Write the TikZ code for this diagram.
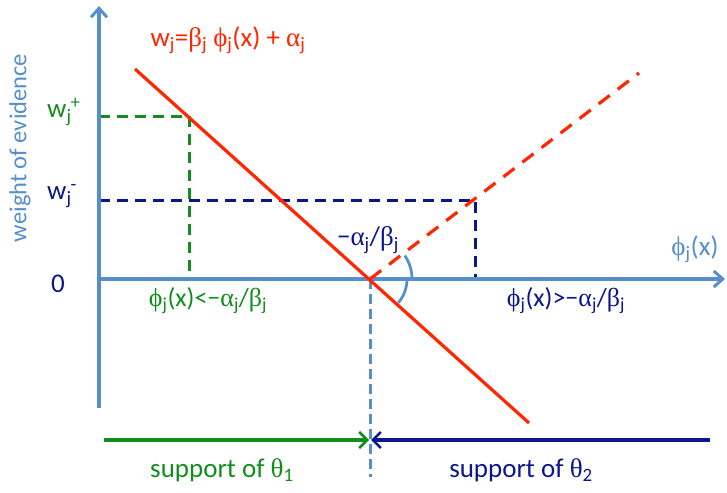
\documentclass[tikz,border=0pt]{standalone}
\usepackage{fontspec}
\setmainfont{Carlito}
\newfontfamily\grk{Liberation Serif}
\usetikzlibrary{arrows.meta,calc}
\definecolor{axblue}{RGB}{86,143,204}
\definecolor{redl}{RGB}{255,38,0}
\definecolor{grn}{RGB}{18,140,28}
\definecolor{navy}{RGB}{12,22,140}
\newcommand\sj{\textsubscript{j}}
\newcommand\gphi{{\grk ϕ}}
\newcommand\galpha{{\grk α}}
\newcommand\gbeta{{\grk β}}
\newcommand\gtheta{{\grk θ}}
\begin{document}
\begin{tikzpicture}[x=1pt,y=-1pt,
  axis/.style={draw=axblue,line width=3.5pt,-{Straight Barb[length=9pt,width=16pt,line width=3pt]}},
  redsolid/.style={draw=redl,line width=3.2pt},
  reddash/.style={draw=redl,line width=3.2pt,dash pattern=on 14pt off 10pt},
  gdash/.style={draw=grn,line width=3pt,dash pattern=on 11pt off 7pt},
  bdash/.style={draw=navy,line width=3pt,dash pattern=on 11pt off 7pt},
  vdash/.style={draw=axblue,line width=3pt,dash pattern=on 10pt off 5pt},
  arc/.style={draw=axblue,line width=2.8pt},
  suparrow/.style={line width=3.5pt,-{Straight Barb[length=8pt,width=16pt,line width=2.5pt]}},
  lbl/.style={font=\fontsize{27}{31}\selectfont,inner sep=0pt},
  reg/.style={font=\fontsize{26}{30}\selectfont,inner sep=0pt}
]
\useasboundingbox (0,0) rectangle (727,492);
% coordinates
\coordinate (O) at (99,279);
\coordinate (ybot) at (99,408);
\coordinate (ytop) at (99,6);
\coordinate (xend) at (725,279);
\coordinate (I) at (370,279);
\coordinate (R1) at (135,69);
\coordinate (R2) at (529,423);
\coordinate (D2) at (639,73);
\coordinate (Gy) at (99,116);
\coordinate (G) at (189,116);
\coordinate (Gx) at (189,279);
\coordinate (By) at (99,200);
\coordinate (B) at (475,200);
\coordinate (Bx) at (475,279);
\coordinate (Vb) at (370,477);
\coordinate (Ls) at (104,440);
\coordinate (Lt) at (369,440);
\coordinate (Rs) at (710,440);
\coordinate (Rt) at (371,440);
% dashed guides
\draw[gdash] (Gy) -- (G) -- (Gx);
\draw[bdash] (By) -- (B) -- (Bx);
\draw[vdash] (I) -- (Vb);
% axes
\draw[axis] (ybot) -- (ytop);
\draw[axis] (O) -- (xend);
% red lines
\draw[redsolid] (R1) -- (R2);
\draw[reddash] (I) -- (D2);
% angle arcs
\draw[arc] ($(I)+(-34:42)$) arc[start angle=-34,end angle=1,radius=42];
\draw[arc] ($(I)+(3:37)$) arc[start angle=3,end angle=40,radius=37];
% support arrows
\draw[suparrow,draw=grn] (Ls) -- (Lt);
\draw[suparrow,draw=navy] (Rs) -- (Rt);
% labels
\node[lbl,text=redl] (title) at (228,40) {w\sj=\gbeta\sj{} \gphi\sj(x) + \galpha\sj};
\node[lbl,text=axblue,rotate=90,font=\fontsize{24.5}{29}\selectfont] (ylab) at (20,148) {weight of evidence};
\node[lbl,text=grn,anchor=west] (wp) at (47,112) {w\sj\kern-1pt\textsuperscript{+}};
\node[lbl,text=navy,anchor=west] (wm) at (47,196) {w\sj\kern-1pt\textsuperscript{-}};
\node[lbl,text=navy] (zero) at (58,284) {0};
\node[lbl,text=axblue] (xlab) at (695,249) {\gphi\sj(x)};
\node[lbl,text=navy] (ang) at (368,240) {−\galpha\sj/\gbeta\sj};
\node[reg,text=grn] (lreg) at (208,301) {\gphi\sj(x)<−\galpha\sj/\gbeta\sj};
\node[reg,text=navy] (rreg) at (566,301) {\gphi\sj(x)>−\galpha\sj/\gbeta\sj};
\node[lbl,text=grn] (s1) at (222,470) {support of \gtheta\textsubscript{1}};
\node[lbl,text=navy] (s2) at (521,470) {support of \gtheta\textsubscript{2}};
\end{tikzpicture}
\end{document}
